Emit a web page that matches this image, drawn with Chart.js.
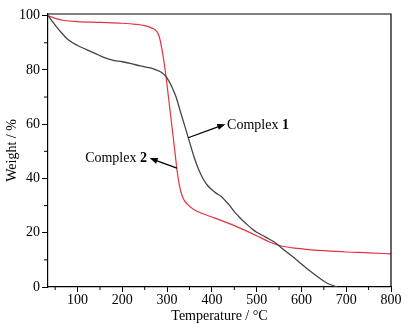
<html>
<head>
<script src="https://cdn.jsdelivr.net/npm/chart.js@4.4.0/dist/chart.umd.min.js"></script>
<style>
body{margin:0;background:#fff;}
</style>
</head>
<body>
<canvas id="tga" width="412" height="333"></canvas>
<script>
// Complex 1 (black curve)
var temp1 = [34, 50, 65, 80, 100, 120, 140, 160, 180, 200, 220, 240, 260, 275, 290, 300, 310, 320, 330, 340, 350, 360, 370, 380, 390, 400, 410, 420, 430, 440, 450, 460, 470, 480, 490, 500, 520, 540, 560, 580, 600, 620, 640, 660, 680];
var weight1 = [100, 96.5, 93.5, 91, 89, 87.5, 86, 84.5, 83.5, 83, 82.3, 81.5, 80.8, 80, 78.8, 77, 74, 70, 64.5, 59, 53.5, 48, 43.5, 40, 37.5, 35.8, 34.5, 33.5, 31.8, 30, 27.8, 26, 24.3, 22.8, 21.4, 20.2, 18.4, 16.5, 13.8, 11.2, 8.5, 5.8, 3.3, 1.2, 0];
// Complex 2 (red curve)
var temp2 = [34, 50, 70, 100, 150, 200, 230, 250, 265, 275, 282, 288, 293, 298, 303, 308, 313, 318, 323, 328, 335, 345, 360, 380, 400, 450, 500, 530, 555, 580, 610, 650, 700, 750, 800];
var weight2 = [100, 99, 98.2, 97.8, 97.5, 97.2, 96.8, 96.3, 95.5, 94.5, 92.5, 88, 83, 77, 70, 63, 56, 49, 42, 37, 33, 30.5, 28.5, 27, 25.8, 22.6, 18.9, 16.5, 15.1, 14.4, 13.9, 13.4, 12.9, 12.6, 12.2];

var xTicks = [100, 200, 300, 400, 500, 600, 700, 800];
var xMinor = [50, 150, 250, 350, 450, 550, 650, 750];
var yTicks = [0, 20, 40, 60, 80, 100];
var yMinor = [10, 30, 50, 70, 90];

// annotation labels, placed in data units
var notes = [
  {text: 'Complex ', bold: '1', x: 434, y: 59.5, align: 'left', from: [347, 55], to: [430, 60]},
  {text: 'Complex ', bold: '2', x: 255, y: 47.5, align: 'right', from: [322, 43.8], to: [261, 47.5]}
];

function pts(t, w){
  var out = [];
  for(var i = 0; i < t.length; i++){
    out.push({x: t[i], y: w[i]});
  }
  return out;
}

var serif = "'Liberation Serif', 'DejaVu Serif', serif";

var extras = {
  id: 'extras',
  afterDraw: function(chart){
    var ctx = chart.ctx;
    var a = chart.chartArea;
    var xs = chart.scales.x, ys = chart.scales.y;
    ctx.save();
    ctx.strokeStyle = '#000';
    ctx.lineWidth = 1.2;
    // top and right frame
    ctx.beginPath();
    ctx.moveTo(a.left, a.top);
    ctx.lineTo(a.right, a.top);
    ctx.lineTo(a.right, a.bottom);
    ctx.stroke();
    // minor ticks
    ctx.lineWidth = 1;
    ctx.beginPath();
    xMinor.forEach(function(v){
      var px = xs.getPixelForValue(v);
      ctx.moveTo(px, a.bottom);
      ctx.lineTo(px, a.bottom + 3);
    });
    yMinor.forEach(function(v){
      var py = ys.getPixelForValue(v);
      ctx.moveTo(a.left - 4, py);
      ctx.lineTo(a.left, py);
    });
    ctx.stroke();
    // notes with arrows
    notes.forEach(function(n){
      var x1 = xs.getPixelForValue(n.from[0]), y1 = ys.getPixelForValue(n.from[1]);
      var x2 = xs.getPixelForValue(n.to[0]), y2 = ys.getPixelForValue(n.to[1]);
      var ang = Math.atan2(y2 - y1, x2 - x1);
      ctx.strokeStyle = '#000';
      ctx.fillStyle = '#000';
      ctx.lineWidth = 1.3;
      ctx.beginPath();
      ctx.moveTo(x1, y1);
      ctx.lineTo(x2 - 5 * Math.cos(ang), y2 - 5 * Math.sin(ang));
      ctx.stroke();
      ctx.beginPath();
      ctx.moveTo(x2, y2);
      ctx.lineTo(x2 - 8 * Math.cos(ang) + 3 * Math.sin(ang), y2 - 8 * Math.sin(ang) - 3 * Math.cos(ang));
      ctx.lineTo(x2 - 8 * Math.cos(ang) - 3 * Math.sin(ang), y2 - 8 * Math.sin(ang) + 3 * Math.cos(ang));
      ctx.closePath();
      ctx.fill();

      var tx = xs.getPixelForValue(n.x), ty = ys.getPixelForValue(n.y);
      ctx.textBaseline = 'middle';
      ctx.textAlign = 'left';
      ctx.font = '14px ' + serif;
      var w1 = ctx.measureText(n.text).width;
      ctx.font = 'bold 14px ' + serif;
      var w2 = ctx.measureText(n.bold).width;
      var sx = n.align == 'right' ? tx - w1 - w2 : tx;
      ctx.font = '14px ' + serif;
      ctx.fillText(n.text, sx, ty);
      ctx.font = 'bold 14px ' + serif;
      ctx.fillText(n.bold, sx + w1, ty);
    });
    ctx.restore();
  }
};

var chart = new Chart(document.getElementById('tga').getContext('2d'), {
  type: 'line',
  data: {
    datasets: [{
      label: 'Complex 1',
      data: pts(temp1, weight1),
      borderColor: '#444444',
      borderWidth: 1.3,
      pointRadius: 0,
      cubicInterpolationMode: 'monotone',
      fill: false
    }, {
      label: 'Complex 2',
      data: pts(temp2, weight2),
      borderColor: '#e5323f',
      borderWidth: 1.2,
      pointRadius: 0,
      cubicInterpolationMode: 'monotone',
      fill: false
    }]
  },
  options: {
    responsive: false,
    animation: false,
    devicePixelRatio: 1,
    layout: {padding: {top: 14, right: 21, left: 0, bottom: 0}},
    plugins: {legend: {display: false}, tooltip: {enabled: false}},
    scales: {
      x: {
        type: 'linear',
        min: 34,
        max: 800,
        afterBuildTicks: function(s){ s.ticks = xTicks.map(function(v){ return {value: v}; }); },
        afterFit: function(s){ s.height = 46; },
        ticks: {color: '#000', padding: 0, maxRotation: 0, font: {family: serif, size: 14}},
        grid: {drawOnChartArea: false, drawTicks: true, tickLength: 5, tickColor: '#000', tickWidth: 1},
        border: {display: true, color: '#000', width: 1.2},
        title: {display: true, text: 'Temperature / °C', color: '#000', padding: {top: 0, bottom: 8}, font: {family: serif, size: 14}}
      },
      y: {
        min: 0,
        max: 100.6,
        afterBuildTicks: function(s){ s.ticks = yTicks.map(function(v){ return {value: v}; }); },
        afterFit: function(s){ s.width = 48; },
        ticks: {color: '#000', padding: 2, font: {family: serif, size: 14}},
        grid: {drawOnChartArea: false, drawTicks: true, tickLength: 6, tickColor: '#000', tickWidth: 1},
        border: {display: true, color: '#000', width: 1.2},
        title: {display: true, text: 'Weight / %', color: '#000', padding: {top: 4, bottom: 0}, font: {family: serif, size: 14}}
      }
    }
  },
  plugins: [extras]
});
</script>
</body>
</html>
